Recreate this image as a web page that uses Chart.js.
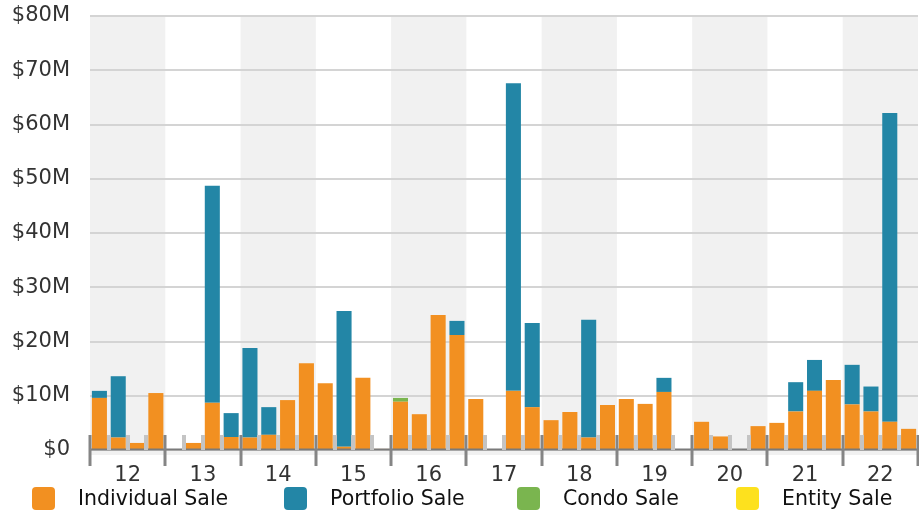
<!DOCTYPE html>
<html>
<head>
<meta charset="utf-8">
<script src="https://cdn.jsdelivr.net/npm/chart.js@4/dist/chart.umd.min.js"></script>
<style>
  body { margin: 0; background: #fff; }
  #wrap { position: relative; width: 919px; height: 514px; }
  #legend {
    position: absolute; left: 0; top: 486px; width: 919px; height: 24px;
    font-family: "DejaVu Sans", Verdana, sans-serif;
    font-size: 20.5px; color: #111;
  }
  .item { position: absolute; top: 0; display: flex; align-items: center; height: 24px; }
  .box { width: 23px; height: 23px; border-radius: 4px; margin-right: 23px; box-sizing: border-box; }
</style>
</head>
<body>
<div id="wrap">
  <canvas id="chart" width="919" height="514"></canvas>
  <div id="legend"></div>
</div>
<script>
const years = ["12", "13", "14", "15", "16", "17", "18", "19", "20", "21", "22"];
const quarters = ["Q1", "Q2", "Q3", "Q4"];

// values in $M, four quarters per year
const individualSale = [
  9.6, 2.3, 1.3, 10.5,
  0, 1.3, 8.7, 2.4,
  2.3, 2.8, 9.2, 16.0,
  12.3, 0.6, 13.3, 0.2,
  8.9, 6.6, 24.9, 21.2,
  9.4, 0, 10.9, 7.9,
  5.5, 7.0, 2.3, 8.3,
  9.4, 8.5, 10.7, 0,
  5.2, 2.5, 0, 4.4,
  5.0, 7.1, 10.9, 12.9,
  8.4, 7.1, 5.2, 3.9,
];
const portfolioSale = [
  1.3, 11.3, 0, 0,
  0, 0, 40.0, 4.4,
  16.5, 5.1, 0, 0,
  0, 25.0, 0, 0,
  0, 0, 0, 2.6,
  0, 0, 56.7, 15.5,
  0, 0, 21.7, 0,
  0, 0, 2.6, 0,
  0, 0, 0, 0,
  0, 5.4, 5.7, 0,
  7.3, 4.6, 56.9, 0,
];
const condoSale = [
  0, 0, 0, 0,
  0, 0, 0, 0,
  0, 0, 0, 0,
  0, 0, 0, 0,
  0.7, 0, 0, 0,
  0, 0, 0, 0,
  0, 0, 0, 0,
  0, 0, 0, 0,
  0, 0, 0, 0,
  0, 0, 0, 0,
  0, 0, 0, 0,
];
const entitySale = new Array(44).fill(0);
const yTicks = [0, 10, 20, 30, 40, 50, 60, 70, 80];

const labels = [];
years.forEach((y) => quarters.forEach((q) => labels.push(y + " " + q)));

const series = [
  { label: "Individual Sale", data: individualSale, color: "#f29021", left: 32 },
  { label: "Portfolio Sale", data: portfolioSale, color: "#2386a6", left: 284 },
  { label: "Condo Sale", data: condoSale, color: "#7ab54f", left: 517 },
  { label: "Entity Sale", data: entitySale, color: "#fde11e", left: 736 },
];

const FONT = '"DejaVu Sans", Verdana, sans-serif';

// year bands, axis ticks and year labels
const yearAxis = {
  id: "yearAxis",
  beforeDraw(chart) {
    const { ctx, chartArea, scales } = chart;
    const x = scales.x;
    const slot = x.width / labels.length;
    const base = scales.y.getPixelForValue(0);
    ctx.save();
    ctx.fillStyle = "#f1f1f1";
    years.forEach((y, i) => {
      if (i % 2 === 0) {
        const left = x.getPixelForValue(i * 4) - slot / 2;
        ctx.fillRect(left, chartArea.top, slot * 4, base - chartArea.top);
      }
    });
    ctx.fillRect(chartArea.left, base, chartArea.right - chartArea.left, 5);
    ctx.restore();
  },
  afterDatasetsDraw(chart) {
    const { ctx, chartArea, scales } = chart;
    const x = scales.x;
    const slot = x.width / labels.length;
    const base = scales.y.getPixelForValue(0);
    ctx.save();
    // baseline
    ctx.strokeStyle = "#7a7a7a";
    ctx.lineWidth = 2;
    ctx.beginPath();
    ctx.moveTo(chartArea.left, base - 0.5);
    ctx.lineTo(chartArea.right, base - 0.5);
    ctx.stroke();
    // quarter ticks
    ctx.fillStyle = "#c4c4c4";
    for (let i = 0; i < labels.length; i++) {
      if (i % 4 === 0) continue;
      const px = x.getPixelForValue(i) - slot / 2;
      ctx.fillRect(Math.round(px) - 2, base - 15, 4, 15);
    }
    // year ticks
    ctx.fillStyle = "#858585";
    for (let i = 0; i <= labels.length; i += 4) {
      const px = x.getPixelForValue(0) - slot / 2 + i * slot;
      ctx.fillRect(Math.round(px) - 1.5, base - 15, 3, 31);
    }
    // year labels
    ctx.fillStyle = "#333";
    ctx.font = "21px " + FONT;
    ctx.textAlign = "center";
    ctx.textBaseline = "middle";
    years.forEach((y, i) => {
      const cx = x.getPixelForValue(i * 4) - slot / 2 + slot * 2;
      ctx.fillText(y, cx, base + 26);
    });
    ctx.restore();
  },
};

new Chart(document.getElementById("chart"), {
  type: "bar",
  data: {
    labels: labels,
    datasets: series.map((s) => ({
      label: s.label,
      data: s.data,
      backgroundColor: s.color,
      borderWidth: 0,
      barPercentage: 0.8,
      categoryPercentage: 1,
    })),
  },
  options: {
    responsive: false,
    animation: false,
    layout: { padding: { top: 16, right: 1, left: 0, bottom: 0 } },
    plugins: { legend: { display: false }, tooltip: { enabled: false } },
    scales: {
      x: {
        stacked: true,
        grid: { display: false },
        border: { display: false },
        ticks: { display: false },
        afterFit(scale) {
          scale.height = 64;
          scale.paddingLeft = 0;
          scale.paddingRight = 0;
        },
      },
      y: {
        stacked: true,
        min: 0,
        max: 80,
        afterBuildTicks(scale) { scale.ticks = yTicks.map((v) => ({ value: v })); },
        afterFit(scale) {
          scale.width = 90;
          scale.paddingTop = 0;
          scale.paddingBottom = 0;
        },
        grid: { color: "#d4d4d4", lineWidth: 2, drawTicks: false },
        border: { display: false },
        ticks: {
          padding: 20,
          color: "#333",
          font: { family: FONT, size: 21 },
          callback: (v) => (v === 0 ? "$0" : "$" + v + "M"),
        },
      },
    },
  },
  plugins: [yearAxis],
});

// legend row
const legend = document.getElementById("legend");
series.forEach((s) => {
  const item = document.createElement("div");
  item.className = "item";
  item.style.left = s.left + "px";
  item.innerHTML = '<span class="box" style="background:' + s.color + '"></span><span>' + s.label + "</span>";
  legend.appendChild(item);
});
</script>
</body>
</html>
